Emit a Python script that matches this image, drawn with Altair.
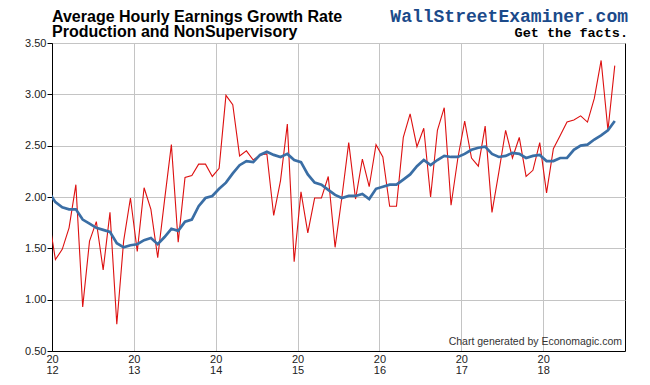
import altair as alt
import pandas as pd

# Monthly values, Dec 2011 .. Nov 2018 (Dec 2011 only feeds the clipped lead-in segment)
monthly = [1.81,
           1.39, 1.49, 1.70, 2.12, 0.93, 1.57, 1.76, 1.29, 1.85, 0.76, 1.57, 1.99,
           1.47, 2.09, 1.88, 1.41, 1.97, 2.51, 1.56, 2.19, 2.21, 2.32, 2.32, 2.20,
           2.28, 2.99, 2.90, 2.40, 2.45, 2.36, 2.41, 2.42, 1.82, 2.16, 2.71, 1.37,
           2.05, 1.65, 1.99, 1.99, 2.20, 1.51, 2.00, 2.53, 1.98, 2.37, 2.10, 2.51,
           2.39, 1.91, 1.91, 2.58, 2.81, 2.49, 2.67, 2.00, 2.65, 2.87, 1.92, 2.38,
           2.74, 2.38, 2.30, 2.69, 1.85, 2.24, 2.65, 2.38, 2.58, 2.20, 2.26, 2.53,
           2.04, 2.47, 2.60, 2.73, 2.75, 2.79, 2.73, 2.96, 3.33, 2.65, 3.28]
average = [2.05,
           1.95, 1.90, 1.88, 1.88, 1.78, 1.74, 1.70, 1.68, 1.66, 1.55, 1.51, 1.53,
           1.54, 1.58, 1.60, 1.54, 1.61, 1.69, 1.67, 1.76, 1.78, 1.91, 1.99, 2.01,
           2.08, 2.14, 2.23, 2.31, 2.35, 2.34, 2.41, 2.44, 2.41, 2.39, 2.42, 2.36,
           2.34, 2.22, 2.14, 2.12, 2.07, 2.02, 1.99, 2.01, 2.01, 2.03, 1.98, 2.08,
           2.10, 2.12, 2.12, 2.17, 2.22, 2.30, 2.36, 2.31, 2.36, 2.40, 2.39, 2.39,
           2.42, 2.46, 2.48, 2.49, 2.42, 2.39, 2.40, 2.43, 2.42, 2.38, 2.40, 2.41,
           2.35, 2.35, 2.38, 2.38, 2.46, 2.50, 2.51, 2.56, 2.60, 2.65, 2.74]
tick_years = [2012, 2013, 2014, 2015, 2016, 2017, 2018]
y_ticks = [0.5, 1.0, 1.5, 2.0, 2.5, 3.0, 3.5]
title_lines = ["Average Hourly Earnings Growth Rate", "Production and NonSupervisory"]
brand = "WallStreetExaminer.com"
tagline = "Get the facts."
credit = "Chart generated by Economagic.com"

# month positions (mid-month, in decimal years)
years, months = [], []
yy, mm = 2011, 12
for _ in range(len(monthly)):
    years.append(yy)
    months.append(mm)
    mm += 1
    if mm > 12:
        mm = 1
        yy += 1
t = [a + (b - 0.5) / 12 for a, b in zip(years, months)]

df = pd.DataFrame({"t": t, "monthly": monthly, "average": average})

GRID = "#c4c4c4"
FONT = "Liberation Sans"

xenc = alt.X(
    "t:Q",
    scale=alt.Scale(domain=[2012, 2019], nice=False, zero=False),
    axis=alt.Axis(
        values=tick_years, format="d", title=None, grid=True, gridColor=GRID,
        ticks=False, labelPadding=2, labelFontSize=11, labelFont=FONT,
        labelColor="#222222", labelLineHeight=11,
        labelExpr="[slice(datum.label, 0, 2), slice(datum.label, 2)]",
        domainColor="black", labelFlush=False,
    ),
)
yaxis = alt.Axis(
    values=y_ticks, format=".2f", title=None, grid=True, gridColor=GRID,
    tickSize=5, tickColor="black", domainColor="black", labelPadding=1,
    labelFontSize=11, labelFont=FONT, labelColor="#222222",
)
yscale = alt.Scale(domain=[0.5, 3.5], nice=False, zero=False)

base = alt.Chart(df)
red_line = base.mark_line(color="#dd1010", strokeWidth=1.1, clip=True).encode(
    x=xenc, y=alt.Y("monthly:Q", scale=yscale, axis=yaxis)
)
blue_line = base.mark_line(color="#3a6ea5", strokeWidth=2.7, clip=True).encode(
    x=xenc, y=alt.Y("average:Q", scale=yscale, axis=yaxis)
)


def label(txt, x, y, align, size, weight, color, font):
    return alt.Chart(pd.DataFrame({"s": [txt]})).mark_text(
        align=align, baseline="alphabetic", fontSize=size, fontWeight=weight,
        color=color, font=font,
    ).encode(x=alt.value(x), y=alt.value(y), text="s:N")


texts = [
    label(title_lines[0], 0, -21.5, "left", 16, "bold", "#000000", FONT),
    label(title_lines[1], 0, -6, "left", 16, "bold", "#000000", FONT),
    label(brand, 576, -21.5, "right", 18, "bold", "#1b4a8a", "Liberation Mono"),
    label(tagline, 576, -6, "right", 13.5, "bold", "#000000", "Liberation Mono"),
    label(credit, 570, 302, "right", 10.5, "normal", "#333333", FONT),
]

chart = alt.layer(red_line, blue_line, *texts).properties(
    width=573, height=308,
    autosize=alt.AutoSizeParams(type="none"),
    padding={"left": 44, "top": 35, "right": 17, "bottom": 30},
    background="white",
).configure_view(stroke="black", strokeWidth=1)

chart.save("out.html", embed_options={"renderer": "svg", "actions": False})
